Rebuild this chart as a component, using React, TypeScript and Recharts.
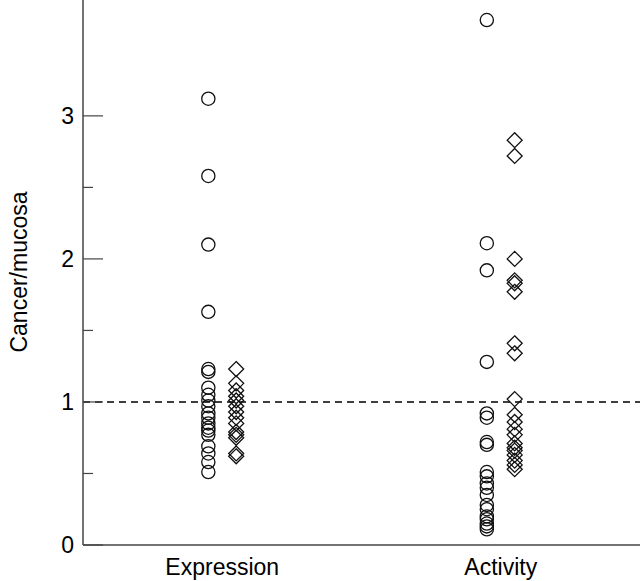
import React from "react";
import {
  ScatterChart,
  Scatter,
  XAxis,
  YAxis,
  ReferenceLine,
} from "recharts";

// values
const groups = ["Expression", "Activity"];
const expressionCircles = [3.12, 2.58, 2.1, 1.63, 1.23, 1.21, 1.1, 1.05, 1.01, 0.97, 0.92, 0.89, 0.85, 0.82, 0.8, 0.77, 0.69, 0.64, 0.58, 0.51];
const expressionDiamonds = [1.23, 1.13, 1.08, 1.04, 1.01, 0.97, 0.93, 0.89, 0.85, 0.79, 0.77, 0.75, 0.64, 0.62];
const activityCircles = [3.67, 2.11, 1.92, 1.28, 0.92, 0.89, 0.72, 0.7, 0.51, 0.48, 0.43, 0.4, 0.35, 0.28, 0.25, 0.2, 0.18, 0.15, 0.13, 0.11];
const activityDiamonds = [2.83, 2.72, 2.0, 1.85, 1.83, 1.77, 1.41, 1.34, 1.02, 0.91, 0.86, 0.81, 0.77, 0.71, 0.68, 0.66, 0.63, 0.59, 0.56, 0.53];
const yTicks = [0, 0.5, 1, 1.5, 2, 2.5, 3];
const xTicks = [1, 3];

const W = 640;
const H = 581;
const Y_AXIS_W = 83;
const X_AXIS_H = 36;
const FONT = "'Liberation Sans', Arial, sans-serif";
const FS = 23;

const toPoints = (vals: number[], x: number) => vals.map((y) => ({ x, y }));

const circleData = [...toPoints(expressionCircles, 0.9), ...toPoints(activityCircles, 2.9)];
const diamondData = [...toPoints(expressionDiamonds, 1.1), ...toPoints(activityDiamonds, 3.1)];

const Circle = (props: any) => (
  <circle cx={props.cx} cy={props.cy} r={6.6} fill="none" stroke="#111" strokeWidth={1.3} />
);

const Diamond = (props: any) => {
  const { cx, cy } = props;
  const d = 7.5;
  return (
    <path
      d={`M${cx},${cy - d}L${cx + d},${cy}L${cx},${cy + d}L${cx - d},${cy}Z`}
      fill="none"
      stroke="#111"
      strokeWidth={1.3}
    />
  );
};

const YTick = (props: any) => {
  const { y, payload } = props;
  const v = payload.value;
  const major = Number.isInteger(v);
  return (
    <g>
      <line x1={Y_AXIS_W} x2={Y_AXIS_W + (major ? 20 : 10)} y1={y} y2={y} stroke="#444" strokeWidth={1.2} />
      {major && (
        <text x={Y_AXIS_W - 9} y={y} dy={8} textAnchor="end" fontSize={FS} fontFamily={FONT} fill="#000">
          {v}
        </text>
      )}
    </g>
  );
};

const XTick = (props: any) => {
  const { x, payload } = props;
  const label = groups[xTicks.indexOf(payload.value)];
  return (
    <text x={x} y={H - X_AXIS_H + 30} textAnchor="middle" fontSize={FS} fontFamily={FONT} fill="#000">
      {label}
    </text>
  );
};

export default function App() {
  return (
    <div style={{ position: "absolute", left: 0, top: 0, width: W, height: H, background: "#fff" }}>
      <ScatterChart width={W} height={H} margin={{ top: 0, right: 0, bottom: 0, left: 0 }}>
        <XAxis
          type="number"
          dataKey="x"
          domain={[0, 4]}
          ticks={xTicks}
          height={X_AXIS_H}
          tickLine={false}
          axisLine={{ stroke: "#444", strokeWidth: 1.5 }}
          tick={<XTick />}
          interval={0}
        />
        <YAxis
          type="number"
          dataKey="y"
          domain={[0, 3.81]}
          ticks={yTicks}
          width={Y_AXIS_W}
          tickLine={false}
          axisLine={{ stroke: "#444", strokeWidth: 1.5 }}
          tick={<YTick />}
          interval={0}
          allowDataOverflow
        />
        <ReferenceLine y={1} stroke="#000" strokeWidth={1.5} strokeDasharray="7 5" />
        <Scatter data={circleData} shape={<Circle />} isAnimationActive={false} />
        <Scatter data={diamondData} shape={<Diamond />} isAnimationActive={false} />
        <text
          x={19}
          y={272}
          transform="rotate(-90 19 272)"
          textAnchor="middle"
          dominantBaseline="central"
          fontSize={FS}
          fontFamily={FONT}
          fill="#000"
        >
          Cancer/mucosa
        </text>
      </ScatterChart>
    </div>
  );
}
